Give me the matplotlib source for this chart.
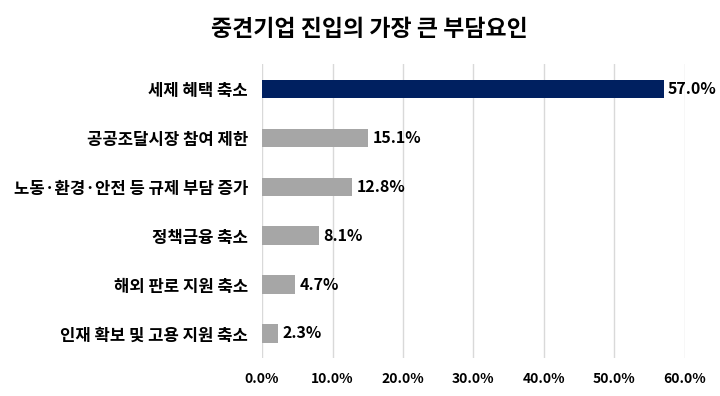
import matplotlib
matplotlib.use("Agg")
import matplotlib.pyplot as plt
from matplotlib.ticker import FuncFormatter

plt.rcParams['font.family'] = ['Noto Sans CJK KR', 'DejaVu Sans']

categories = ["세제 혜택 축소", "공공조달시장 참여 제한", "노동·환경·안전 등 규제 부담 증가",
              "정책금융 축소", "해외 판로 지원 축소", "인재 확보 및 고용 지원 축소"]
values = [57.0, 15.1, 12.8, 8.1, 4.7, 2.3]
colors = ["#002060", "#a6a6a6", "#a6a6a6", "#a6a6a6", "#a6a6a6", "#a6a6a6"]
title = "중견기업 진입의 가장 큰 부담요인"

fig = plt.figure(figsize=(7.2, 3.96), dpi=100)
ax = fig.add_axes([0.364, 0.096, 0.587, 0.742])
y = list(range(len(categories)))
ax.barh(y, values, color=colors, height=0.37, zorder=3)
ax.set_ylim(len(categories) - 0.5, -0.5)
ax.set_xlim(0, 60)
ax.set_xticks(range(0, 61, 10))
ax.xaxis.set_major_formatter(FuncFormatter(lambda v, p: f"{v:.1f}%"))
ax.set_yticks(y)
ax.set_yticklabels(categories, fontsize=12, fontweight='bold')
for lab in ax.get_xticklabels():
    lab.set_fontsize(10)
    lab.set_fontweight('bold')
ax.tick_params(axis='both', length=0)
ax.tick_params(axis='x', pad=10)
ax.tick_params(axis='y', pad=10)
ax.grid(axis='x', color='#d9d9d9', linewidth=1, zorder=0)
for s in ax.spines.values():
    s.set_visible(False)
for yi, v in zip(y, values):
    ax.text(v + 0.6, yi, f"{v:.1f}%", va='center', ha='left', fontsize=11.5, fontweight='bold', zorder=4)
fig.text(0.513, 0.925, title, ha='center', va='center', fontsize=16.5, fontweight='bold')
fig.savefig("out.png", dpi=100, facecolor='white')
